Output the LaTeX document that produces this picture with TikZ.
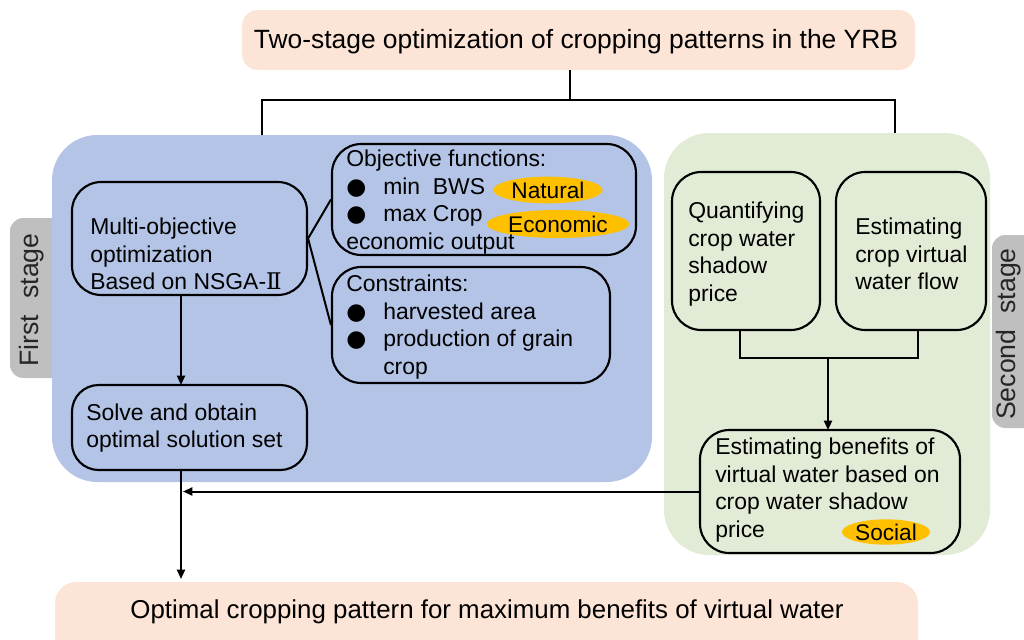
\documentclass[tikz,border=0pt]{standalone}
\usepackage{fontspec}
\setmainfont{Liberation Sans}
\newfontfamily\dejavu{DejaVu Sans}
\newfontfamily\dvserif{DejaVu Serif}
\usetikzlibrary{arrows.meta,fit,shapes.geometric}
\definecolor{pinkbg}{HTML}{FCE4D6}
\definecolor{bluebg}{HTML}{B4C4E7}
\definecolor{greenbg}{HTML}{E2EBD6}
\definecolor{tabgray}{HTML}{BFBFBF}
\definecolor{gold}{HTML}{FFC000}
\newcommand{\bul}{\makebox[27.75pt][l]{\dejavu ●}}
\begin{document}
\begin{tikzpicture}[x=0.75pt,y=-0.75pt,
  box/.style={draw=black, line width=1.6pt, inner sep=0pt, rounded corners=22pt},
  region/.style={inner sep=0pt, rounded corners=34pt},
  tab/.style={fill=tabgray, inner sep=0pt, rounded corners=10pt},
  txt/.style={anchor=west, align=left, inner sep=0pt, font=\fontsize{17.2}{20.8}\selectfont},
  big/.style={inner sep=0pt, font=\fontsize{19.8}{24}\selectfont},
  tabtxt/.style={inner sep=0pt, rotate=90, font=\fontsize{20}{22}\selectfont, text=black!85},
  tag/.style={ellipse, fill=gold, inner sep=0pt, font=\fontsize{17}{20}\selectfont},
  conn/.style={line width=1.5pt},
  arr/.style={line width=1.5pt, -{Triangle[length=7pt,width=6pt]}}]
\useasboundingbox (0,0) rectangle (1024,639);
% tabs
\node[tab, fit={(10,218)(70,378)}] (tabL) {};
\node[tab, fit={(992,235)(1040,428)}] (tabR) {};
\node[tabtxt] (tabLt) at (32,300) {First\hspace{12pt}stage};
\node[tabtxt] (tabRt) at (1009,334) {Second\hspace{12pt}stage};
% regions
\node[region, fill=bluebg, fit={(52,135)(652,482)}] (first) {};
\node[region, fill=greenbg, fit={(664,133)(990,555)}] (second) {};
% top and bottom boxes
\node[tab, fill=pinkbg, rounded corners=12pt, fit={(242,10)(915,70)}] (top) {};
\node[big] (toptxt) at (576,42) {Two-stage optimization of cropping patterns in the YRB};
\node[tab, fill=pinkbg, rounded corners=16pt, fit={(55,582)(918,660)}] (final) {};
\node[big, font=\fontsize{19.4}{24}\selectfont] (finaltxt) at (487,612) {Optimal cropping pattern for maximum benefits of virtual water};
% first stage boxes
\node[box, fit={(72,182)(307,295)}] (multi) {};
\node[txt] (multit) at (90,254) {Multi-objective\\optimization\\Based on NSGA-{\dvserif Ⅱ}};
\node[box, fit={(332,144)(636,255)}] (obj) {};
\node[tag, minimum width=82pt, minimum height=20pt] (natural) at (548,190) {Natural};
\node[tag, minimum width=107pt, minimum height=21pt] (economic) at (558,224) {Economic};
\node[txt] (objt) at (346,202) {Objective functions:\\\bul min\ \ BWS\\\bul max Crop\\economic output};
\node[box, fit={(332,267)(610,383)}] (cons) {};
\node[txt] (const) at (346,327) {Constraints:\\\bul harvested area\\\bul production of grain\\\hspace*{27.75pt}crop};
\node[box, rounded corners=20pt, fit={(72,385)(307,470)}] (solve) {};
\node[txt] (solvet) at (86,428) {Solve and obtain\\optimal solution set};
% second stage boxes
\node[box, fit={(672,172)(820,330)}] (quant) {};
\node[txt] (quantt) at (688,254) {Quantifying\\crop water\\shadow\\price};
\node[box, fit={(836,172)(986,330)}] (est) {};
\node[txt] (estt) at (855,254) {Estimating\\crop virtual\\water flow};
\node[box, fit={(700,430)(960,553)}] (ben) {};
\node[tag, minimum width=66pt, minimum height=19pt] (social) at (886,532) {Social};
\node[txt] (bent) at (715,490) {Estimating benefits of\\virtual water based on\\crop water shadow\\price};
% connectors
\coordinate (tc) at (570,100);
\coordinate (tl) at (262,100);
\coordinate (tr) at (895,100);
\draw[conn] (570,70) -- (tc);
\draw[conn] (262,135) -- (tl) -- (tr) -- (895,133);
\draw[conn] (obj.west) -- (multi.east) -- (cons.west);
\draw[arr] (181,295) -- (181,385);
\draw[arr] (181,470) -- (181,579);
\coordinate (jx) at (183,0);
\draw[arr] (ben.west) -- (ben.west -| jx);
\coordinate (ql) at (740,358);
\coordinate (qr) at (918,358);
\draw[conn] (740,330) -- (ql) -- (qr) -- (918,330);
\draw[arr] (828,358) -- (828,430);
\end{tikzpicture}
\end{document}
